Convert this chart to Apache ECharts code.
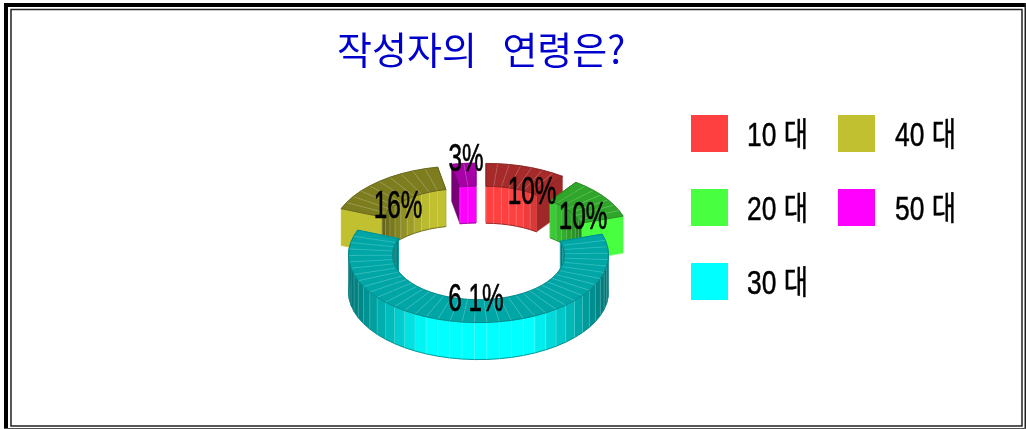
<!DOCTYPE html>
<html>
<head>
<meta charset="utf-8">
<style>html,body{margin:0;padding:0;background:#fff}#chart{width:1026px;height:429px}</style>
<script src="https://cdn.jsdelivr.net/npm/echarts@6/dist/echarts.min.js"></script>
</head>
<body>
<div id="chart"></div>
<script>
// Survey data
const ageGroups = ['10 대', '20 대', '30 대', '40 대', '50 대'];
const sharePercent = [10, 10, 61, 16, 3];
const shareLabels = ['10%', '10%', '6 1%', '16%', '3%'];

// Slice colours and how far each slice is pulled away from the ring centre
const sliceColors = ['#ff4040', '#48ff40', '#00ffff', '#c0c030', '#ff00ff'];
const sliceShift = [[7.5, -24], [21, -18], [0, 0], [-16.5, -21.5], [-2.5, -24.3]];
const labelAnchors = [[532, 194], [583, 219], [476, 301], [398, 208], [466, 161]];
const legendTextAnchors = [[808, 137], [808, 211], [808, 285], [956, 137], [956, 211]];
const paintOrder = [0, 3, 4, 1, 2];

// Ring projection
const ring = { cx: 478.5, cy: 255, rOuter: 130, rInner: 86, tilt: 0.52, depth: 37, step: 5.5 };

const total = sharePercent.reduce((a, b) => a + b, 0);
const rad = d => d * Math.PI / 180;

function project(i, r, deg, drop) {
  return [
    ring.cx + sliceShift[i][0] + r * Math.sin(rad(deg)),
    ring.cy + sliceShift[i][1] - r * ring.tilt * Math.cos(rad(deg)) + drop
  ];
}
function shade(hex, f) {
  const n = parseInt(hex.slice(1), 16);
  return 'rgb(' + [n >> 16, (n >> 8) & 255, n & 255].map(c => Math.round(c * f)).join(',') + ')';
}
// Faces turned sideways to the viewer fall off in brightness
function facing(s) {
  s = Math.abs(s);
  return s < 0.4 ? 1 : 1 - (s - 0.4) / 0.6 * 0.55;
}

function sliceChildren(i) {
  const start = sharePercent.slice(0, i).reduce((a, b) => a + b, 0) / total * 360;
  const span = sharePercent[i] / total * 360;
  const end = start + span;
  const color = sliceColors[i];
  const n = Math.max(2, Math.round(span / ring.step));
  const angles = [];
  for (let k = 0; k <= n; k++) angles.push(start + span * k / n);
  const out = [];
  const poly = (pts, fill) => out.push({
    type: 'polygon', silent: true, shape: { points: pts },
    style: { fill: fill, stroke: fill, lineWidth: 0.5 }
  });
  const line = (pts, stroke, w) => out.push({
    type: 'polyline', silent: true, shape: { points: pts },
    style: { fill: null, stroke: stroke, lineWidth: w }
  });
  const sep = 'rgba(255,255,255,0.28)';
  const edge = shade(color, 0.5);

  // radial end faces
  [[start, Math.sin(rad(start - 90))], [end, Math.sin(rad(end + 90))]].forEach(([a, s]) => {
    poly([project(i, ring.rOuter, a, 0), project(i, ring.rInner, a, 0),
          project(i, ring.rInner, a, ring.depth), project(i, ring.rOuter, a, ring.depth)],
         shade(color, facing(s)));
  });

  // inner wall (far side of the hole) and outer wall (near side of the ring)
  for (let k = 0; k < n; k++) {
    const a = angles[k], b = angles[k + 1], m = (a + b) / 2;
    if (Math.cos(rad(m)) > 0) {
      poly([project(i, ring.rInner, a, 0), project(i, ring.rInner, b, 0),
            project(i, ring.rInner, b, ring.depth), project(i, ring.rInner, a, ring.depth)],
           shade(color, facing(Math.sin(rad(m)))));
      line([project(i, ring.rInner, a, 0), project(i, ring.rInner, a, ring.depth)], sep, 0.7);
      line([project(i, ring.rInner, a, ring.depth), project(i, ring.rInner, b, ring.depth)], edge, 0.8);
    }
    if (Math.cos(rad(m)) < 0.15) {
      poly([project(i, ring.rOuter, a, 0), project(i, ring.rOuter, b, 0),
            project(i, ring.rOuter, b, ring.depth), project(i, ring.rOuter, a, ring.depth)],
           shade(color, facing(Math.sin(rad(m)))));
      line([project(i, ring.rOuter, a, 0), project(i, ring.rOuter, a, ring.depth)], sep, 0.7);
      line([project(i, ring.rOuter, a, ring.depth), project(i, ring.rOuter, b, ring.depth)], edge, 0.8);
    }
  }

  // top face
  const top = shade(color, 0.65);
  for (let k = 0; k < n; k++) {
    const a = angles[k], b = angles[k + 1];
    poly([project(i, ring.rOuter, a, 0), project(i, ring.rOuter, b, 0),
          project(i, ring.rInner, b, 0), project(i, ring.rInner, a, 0)], top);
  }
  for (let k = 1; k < n; k++) {
    line([project(i, ring.rOuter, angles[k], 0), project(i, ring.rInner, angles[k], 0)], sep, 0.6);
  }
  const rim = angles.map(a => project(i, ring.rOuter, a, 0))
    .concat(angles.slice().reverse().map(a => project(i, ring.rInner, a, 0)));
  rim.push(rim[0]);
  line(rim, edge, 0.8);
  return out;
}

const sliceSeries = ageGroups.map((name, i) => ({
  type: 'custom',
  name: name,
  coordinateSystem: 'none',
  silent: true,
  z: 2 + paintOrder.indexOf(i),
  itemStyle: { color: sliceColors[i] },
  data: [sharePercent[i]],
  renderItem: () => ({ type: 'group', children: sliceChildren(i) })
}));

const labelSeries = {
  type: 'custom',
  coordinateSystem: 'none',
  silent: true,
  z: 20,
  data: shareLabels,
  renderItem: (params) => ({
    type: 'text',
    silent: true,
    x: labelAnchors[params.dataIndex][0],
    y: labelAnchors[params.dataIndex][1],
    scaleX: 0.64,
    style: {
      text: shareLabels[params.dataIndex],
      font: '38px "Liberation Sans", sans-serif',
      fill: '#000',
      stroke: '#000',
      lineWidth: 0.6,
      align: 'center',
      verticalAlign: 'middle'
    }
  })
};

// Swatches come from the legend; their captions are set condensed alongside
const legendBase = {
  orient: 'vertical',
  icon: 'rect',
  itemWidth: 37,
  itemHeight: 37,
  itemGap: 37,
  padding: 0,
  selectedMode: false,
  top: 115,
  formatter: () => ''
};
const legendCaptions = ageGroups.map((name, i) => ({
  type: 'text',
  silent: true,
  x: legendTextAnchors[i][0],
  y: legendTextAnchors[i][1],
  scaleX: 0.8,
  style: {
    text: name,
    font: '33px "Liberation Sans", "Noto Sans CJK KR", sans-serif',
    fill: '#000',
    stroke: '#000',
    lineWidth: 0.5,
    align: 'right',
    verticalAlign: 'middle'
  }
}));

// Double-ruled page frame
const frame = [
  { type: 'rect', shape: { x: 4, y: 3, width: 1022, height: 4 }, style: { fill: '#000' } },
  { type: 'rect', shape: { x: 4, y: 3, width: 4, height: 426 }, style: { fill: '#000' } },
  { type: 'rect', shape: { x: 11, y: 9.5, width: 1011, height: 416.5 }, style: { fill: 'none', stroke: '#222', lineWidth: 1.5 } },
  { type: 'rect', shape: { x: 1024.5, y: 3, width: 1.5, height: 426 }, style: { fill: '#222' } },
  { type: 'rect', shape: { x: 4, y: 428, width: 1022, height: 1 }, style: { fill: '#555' } }
];

const chart = echarts.init(document.getElementById('chart'), null, { renderer: 'canvas' });
chart.setOption({
  animation: false,
  backgroundColor: '#fff',
  title: {
    text: '작성자의   연령은?',
    left: 337,
    top: 31,
    padding: 0,
    textStyle: {
      fontFamily: '"Noto Sans CJK KR", sans-serif',
      fontWeight: 'normal',
      fontSize: 38,
      color: '#0000cc'
    }
  },
  legend: [
    Object.assign({}, legendBase, { left: 691, data: ageGroups.slice(0, 3) }),
    Object.assign({}, legendBase, { left: 838, data: ageGroups.slice(3) })
  ],
  graphic: { elements: frame.concat(legendCaptions) },
  series: sliceSeries.concat([labelSeries])
});
</script>
</body>
</html>
